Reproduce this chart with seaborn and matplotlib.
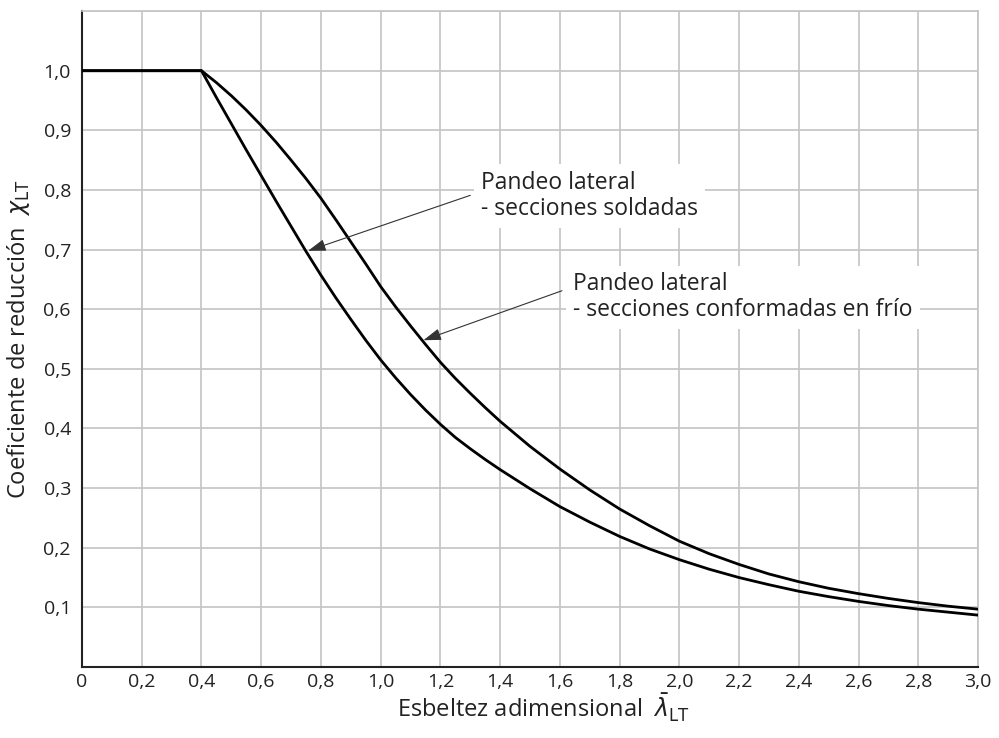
import matplotlib
matplotlib.use("Agg")
import matplotlib.pyplot as plt
import seaborn as sns
import pandas as pd

# ---- data ----
lam_soldadas = [0.0, 0.4, 0.45, 0.5, 0.55, 0.6, 0.65, 0.7, 0.75, 0.8, 0.85, 0.9, 0.95,
                1.0, 1.05, 1.1, 1.15, 1.2, 1.25, 1.3, 1.35, 1.4, 1.5, 1.6,
                1.7, 1.8, 1.9, 2.0, 2.1, 2.2, 2.3, 2.4, 2.5, 2.6, 2.7, 2.8, 2.9, 3.0]
chi_soldadas = [1.0, 1.0, 0.955, 0.911, 0.867, 0.824, 0.781, 0.739, 0.697, 0.657, 0.619,
                0.583, 0.548, 0.515, 0.485, 0.457, 0.431, 0.407, 0.385, 0.366, 0.348,
                0.331, 0.299, 0.269, 0.243, 0.219, 0.198, 0.180, 0.164, 0.150, 0.138,
                0.127, 0.118, 0.110, 0.103, 0.097, 0.092, 0.087]

lam_frio = [0.0, 0.4, 0.45, 0.5, 0.55, 0.6, 0.65, 0.7, 0.75, 0.8, 0.85, 0.9, 0.95,
            1.0, 1.05, 1.1, 1.15, 1.2, 1.25, 1.3, 1.35, 1.4, 1.5, 1.6,
            1.7, 1.8, 1.9, 2.0, 2.1, 2.2, 2.3, 2.4, 2.5, 2.6, 2.7, 2.8, 2.9, 3.0]
chi_frio = [1.0, 1.0, 0.980, 0.958, 0.934, 0.908, 0.880, 0.850, 0.819, 0.786, 0.750,
            0.713, 0.676, 0.638, 0.604, 0.572, 0.541, 0.511, 0.484, 0.459, 0.435,
            0.412, 0.370, 0.332, 0.297, 0.265, 0.237, 0.211, 0.190, 0.172, 0.156,
            0.143, 0.132, 0.123, 0.115, 0.108, 0.102, 0.097]

x_ticks = [0.0, 0.2, 0.4, 0.6, 0.8, 1.0, 1.2, 1.4, 1.6, 1.8, 2.0, 2.2, 2.4, 2.6, 2.8, 3.0]
x_ticklabels = ["0", "0,2", "0,4", "0,6", "0,8", "1,0", "1,2", "1,4", "1,6", "1,8",
                "2,0", "2,2", "2,4", "2,6", "2,8", "3,0"]
y_ticks = [0.1, 0.2, 0.3, 0.4, 0.5, 0.6, 0.7, 0.8, 0.9, 1.0]
y_ticklabels = ["0,1", "0,2", "0,3", "0,4", "0,5", "0,6", "0,7", "0,8", "0,9", "1,0"]

label_soldadas = "Pandeo lateral\n- secciones soldadas"
label_frio = "Pandeo lateral\n- secciones conformadas en frío"

df = pd.concat([
    pd.DataFrame({"lam": lam_soldadas, "chi": chi_soldadas, "serie": "soldadas"}),
    pd.DataFrame({"lam": lam_frio, "chi": chi_frio, "serie": "frio"}),
])

# ---- figure ----
sns.set_theme(style="white")
plt.rcParams["font.family"] = ["Open Sans", "DejaVu Sans"]
plt.rcParams["mathtext.fontset"] = "dejavusans"

fig = plt.figure(figsize=(9.99, 7.38), dpi=100)
ax = fig.add_axes([0.0821, 0.0962, 0.979 - 0.0821, 0.985 - 0.0962])

grid_c = "#c4c4c4"
for xv in x_ticks:
    ax.axvline(xv, color=grid_c, lw=1.2, zorder=0)
for yv in y_ticks + [1.1]:
    ax.axhline(yv, color=grid_c, lw=1.2, zorder=0)

sns.lineplot(data=df, x="lam", y="chi", hue="serie", palette=["black", "black"],
             legend=False, lw=2.0, sort=False, estimator=None, ax=ax, zorder=3)

ax.set_xlim(0, 3.0)
ax.set_ylim(0, 1.1)
ax.set_xticks(x_ticks)
ax.set_xticklabels(x_ticklabels)
ax.set_yticks(y_ticks)
ax.set_yticklabels(y_ticklabels)
ax.tick_params(axis="both", direction="in", length=6, width=1.2, color="#333333",
               labelsize=14, labelcolor="#222222")
ax.tick_params(axis="x", pad=4)
ax.tick_params(axis="y", pad=8)

for s in ["top", "right"]:
    ax.spines[s].set_color(grid_c)
    ax.spines[s].set_linewidth(1.2)
for s in ["left", "bottom"]:
    ax.spines[s].set_color("#222222")
    ax.spines[s].set_linewidth(1.5)

ax.set_xlabel(r"Esbeltez adimensional  $\bar{\lambda}_{\mathrm{LT}}$", fontsize=17,
              color="#222222", labelpad=1)
ax.xaxis.label.set_x(0.515)
ax.set_ylabel(r"Coeficiente de reducción  $\chi_{\mathrm{LT}}$", fontsize=17,
              color="#222222", labelpad=8)

# annotations
box = dict(boxstyle="square,pad=0.3", facecolor="white", edgecolor="none")
ax.text(1.335, 0.79, label_soldadas, fontsize=16.5, va="center", ha="left",
        color="#222222", bbox=box, zorder=4, linespacing=1.1)
ax.text(1.645, 0.62, label_frio, fontsize=16.5, va="center", ha="left",
        color="#222222", bbox=box, zorder=4, linespacing=1.1)

arrow = dict(arrowstyle="-|>,head_length=0.9,head_width=0.3", color="#333333",
             lw=0.8, shrinkA=0, shrinkB=0)
ax.annotate("", xy=(0.757, 0.698), xytext=(1.30, 0.791), arrowprops=arrow, zorder=5)
ax.annotate("", xy=(1.143, 0.548), xytext=(1.607, 0.631), arrowprops=arrow, zorder=5)

fig.savefig("out.png", dpi=100)
